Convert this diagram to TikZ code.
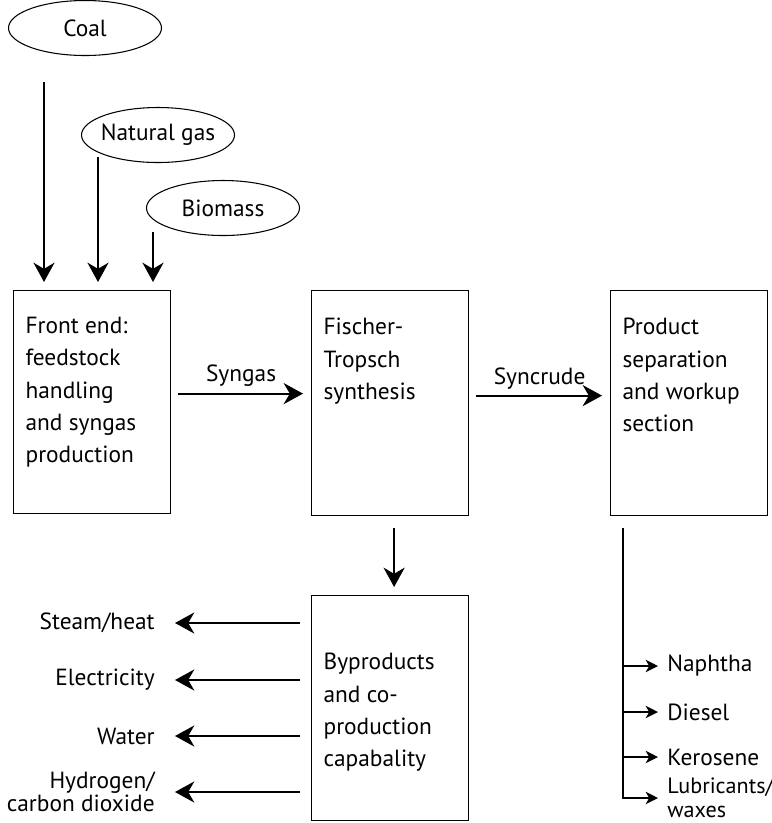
\documentclass[tikz,border=0pt]{standalone}
\usepackage{fontspec}
\setmainfont{PT Sans}
\usetikzlibrary{positioning,arrows.meta,calc,shapes}
\tikzset{
    every node/.style = {
        font=\fontsize{13.3}{13.4}\selectfont
    },
    feed/.style = {
        draw,
        shape=ellipse,
        minimum width=30.6mm,
        minimum height=11mm,
        inner xsep=-1.4mm,
        inner ysep=0pt,
        line width=0.6pt
    },
    stage/.style = {
        draw,
        shape=rectangle,
        anchor=north west,
        minimum width=31.4mm,
        minimum height=45mm,
        inner sep=0pt,
        line width=0.7pt
    },
    output/.style = {
        inner sep=0pt,
        align=right,
        anchor=east
    },
    product/.style = {
        inner sep=0pt,
        align=left,
        anchor=west
    },
    flow/.style = {
        draw,
        line width=1.1pt,
        -{Stealth[length=11pt,width=12pt,inset=3.5pt]}
    },
    tap/.style = {
        draw,
        line width=1.1pt,
        -{Stealth[length=7pt,width=7pt,inset=2pt]}
    },
}
\newcommand{\stagetext}[2][34mm]{\parbox[c][#1][t]{26.6mm}{\raggedright\fontsize{13.3}{18.4}\selectfont #2}}

\begin{document}
\begin{tikzpicture}[x=0.2mm, y=-0.2mm]
            \useasboundingbox (0,0) rectangle (772,823);

            \node[feed] (coal) at (85,28) {Coal};
            \node[feed] (gas) at (158,135) {Natural gas};
            \node[feed] (bio) at (223,208) {Biomass};

            \node[stage, minimum height=44.6mm] (front) at (13,290) {\stagetext{Front end:\\ feedstock\\ handling\\ and syngas\\ production}};
            \node[stage] (ft) at (311,290) {\stagetext{Fischer-\\ Tropsch\\ synthesis}};
            \node[stage] (sep) at (610,290) {\stagetext{Product\\ separation\\ and workup\\ section}};
            \node[stage] (byp) at (311,595) {\stagetext[22mm]{Byproducts\\ and co-\\ production\\ capabality}};

            \coordinate (coal-in) at (44,82);
            \coordinate (gas-in) at (98,157);
            \coordinate (bio-in) at (153,232);
            \path[flow, shorten >=1.6mm] (coal-in) -- (coal-in |- front.north);
            \path[flow, shorten >=1.6mm] (gas-in) -- (gas-in |- front.north);
            \path[flow, shorten >=1.6mm] (bio-in) -- (bio-in |- front.north);

            \path[flow, shorten <=1.4mm, shorten >=1.6mm] ([yshift=1.7mm]front.east) -- ([yshift=1.7mm]front.east -| ft.west) node [midway, above] {Syngas};
            \path[flow, shorten <=1.4mm, shorten >=1.6mm] ([yshift=1.5mm]ft.east) -- ([yshift=1.5mm]ft.east -| sep.west) node [midway, above] {Syncrude};
            \path[flow, shorten <=2.4mm, shorten >=1.6mm] ([xshift=0.8mm]ft.south) -- ([xshift=0.8mm]byp.north);

            \node[output] (steam) at (155,623) {Steam/heat};
            \node[output] (elec) at (155,680) {Electricity};
            \node[output] (water) at (155,736) {Water};
            \node[output] (hco) at (155,792) {Hydrogen/\\carbon dioxide};

            \path[flow, shorten <=2.2mm, shorten >=4mm] (byp.west |- steam.east) -- (steam.east);
            \path[flow, shorten <=2.2mm, shorten >=4mm] (byp.west |- elec.east) -- (elec.east);
            \path[flow, shorten <=2.2mm, shorten >=4mm] (byp.west |- water.east) -- (water.east);
            \path[flow, shorten <=2.2mm, shorten >=4mm] (byp.west |- hco.east) -- (hco.east);

            \node[product] (naph) at (667,666) {Naphtha};
            \node[product] (dies) at (667,712) {Diesel};
            \node[product] (kero) at (667,757) {Kerosene};
            \node[product, font=\fontsize{12.6}{13.4}\selectfont] (lube) at (667,798) {Lubricants/\\waxes};

            \coordinate (trunk) at ([xshift=2.6mm, yshift=-2.4mm]sep.south west);
            \path[tap, shorten >=1.8mm] (trunk) |- (lube.west);
            \path[tap, shorten >=1.8mm] (trunk |- naph.west) -- (naph.west);
            \path[tap, shorten >=1.8mm] (trunk |- dies.west) -- (dies.west);
            \path[tap, shorten >=1.8mm] (trunk |- kero.west) -- (kero.west);
        \end{tikzpicture}
\end{document}
